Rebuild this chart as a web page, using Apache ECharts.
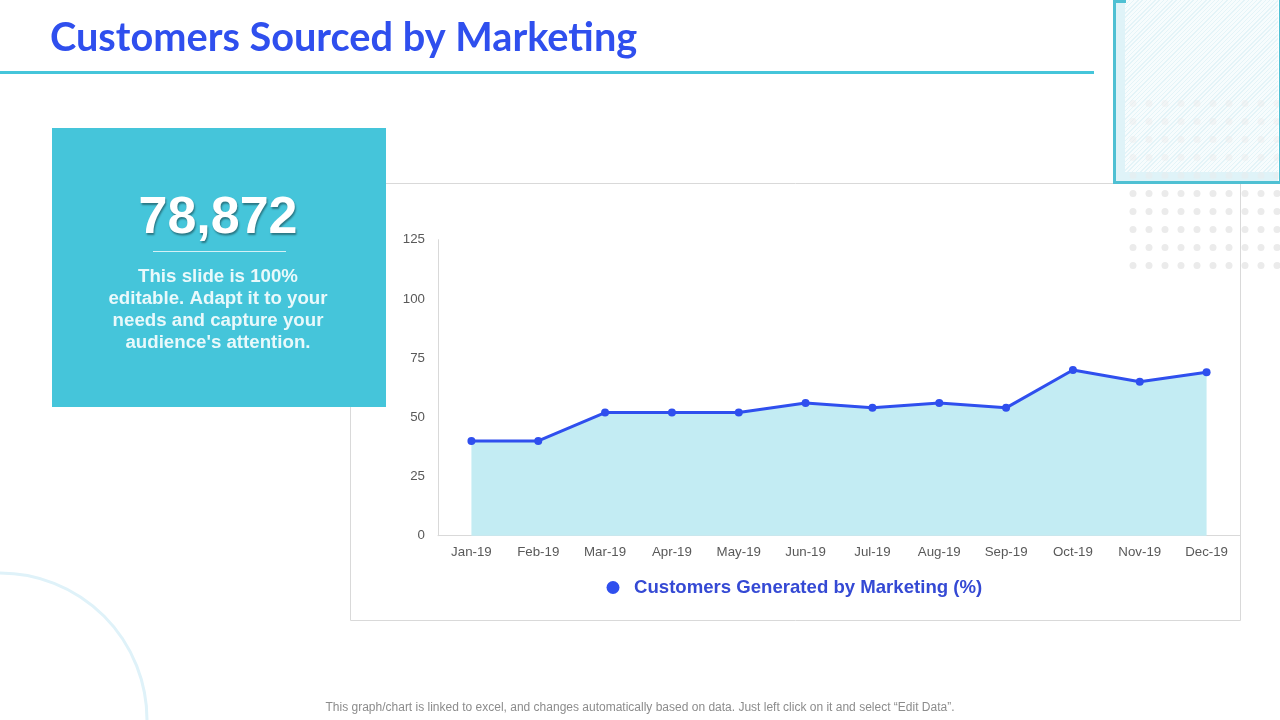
<!DOCTYPE html>
<html>
<head>
<meta charset="utf-8">
<title>Customers Sourced by Marketing</title>
<style>
	html, body { margin: 0; padding: 0; background: #fff; }
	#hatch {
		position: absolute; left: 1125px; top: 0; width: 153px; height: 172px;
		background: repeating-linear-gradient(135deg, #e4f4f8 0, #e4f4f8 1px, #f7fcfd 1px, #f7fcfd 3px);
	}
	#chart { position: absolute; left: 0; top: 0; width: 1280px; height: 720px; }
</style>
</head>
<body>
<div id="hatch"></div>
<div id="chart"></div>
<script src="https://cdn.jsdelivr.net/npm/echarts@6/dist/echarts.min.js"></script>
<script>
var categories = ['Jan-19', 'Feb-19', 'Mar-19', 'Apr-19', 'May-19', 'Jun-19', 'Jul-19', 'Aug-19', 'Sep-19', 'Oct-19', 'Nov-19', 'Dec-19'];
var customers = [40, 40, 52, 52, 52, 56, 54, 56, 54, 70, 65, 69];
var seriesName = 'Customers Generated by Marketing (%)';
var bodyLines = ['This slide is 100%', 'editable. Adapt it to your', 'needs and capture your', "audience's attention."];

var blue = '#2f4fee';
var teal = '#45c5da';
var sans = '"Liberation Sans", Arial, sans-serif';

// decoration and text around the plot
function decoration() {
	var items = [
		{ type: 'rect', z: 0, shape: { x: 350.5, y: 183.5, width: 890, height: 437 }, style: { fill: 'none', stroke: '#d9d9d9', lineWidth: 1 } },
		{ type: 'circle', z: 0, shape: { cx: 0, cy: 720, r: 147 }, style: { fill: 'none', stroke: '#dff2f9', lineWidth: 3 } },
		{ type: 'rect', z: 0, shape: { x: 0, y: 71, width: 1094, height: 3 }, style: { fill: teal } },
		{ type: 'text', z: 5, style: { x: 50, y: 38, text: 'Customers Sourced by Marketing', fill: blue, font: 'bold 39.7px Lato, sans-serif', textVerticalAlign: 'middle' } },
		// corner frame
		{ type: 'rect', z: 0, shape: { x: 1116, y: 172, width: 162, height: 9 }, style: { fill: '#dff3f8' } },
		{ type: 'rect', z: 0, shape: { x: 1116, y: 3, width: 9, height: 170 }, style: { fill: '#dff3f8' } },
		{ type: 'rect', z: 3, shape: { x: 1113, y: 0, width: 3, height: 184 }, style: { fill: '#4fc0d3' } },
		{ type: 'rect', z: 3, shape: { x: 1113, y: 181, width: 167, height: 3 }, style: { fill: '#4fc0d3' } },
		{ type: 'rect', z: 3, shape: { x: 1113, y: 0, width: 13, height: 3 }, style: { fill: '#4fc0d3' } },
		{ type: 'rect', z: 3, shape: { x: 1279, y: 0, width: 1, height: 184 }, style: { fill: '#4fc0d3' } },
		// teal card
		{ type: 'rect', z: 4, shape: { x: 52, y: 128, width: 334, height: 279 }, style: { fill: teal } },
		{ type: 'text', z: 5, style: { x: 218, y: 219, text: '78,872', fill: '#fff', font: 'bold 52px ' + sans, textAlign: 'center', textVerticalAlign: 'middle', textShadowColor: 'rgba(0,0,0,0.4)', textShadowBlur: 2, textShadowOffsetX: 1, textShadowOffsetY: 2 } },
		{ type: 'rect', z: 5, shape: { x: 153, y: 251, width: 133, height: 1 }, style: { fill: '#d4f1f6' } },
		{ type: 'text', z: 5, style: { x: 640, y: 708, text: 'This graph/chart is linked to excel, and changes automatically based on data. Just left click on it and select \u201cEdit Data\u201d.', fill: '#8c8c8c', font: '12px ' + sans, textAlign: 'center', textVerticalAlign: 'middle' } }
	];
	bodyLines.forEach(function(line, i) {
		items.push({ type: 'text', z: 5, style: { x: 218, y: 277 + i * 22, text: line, fill: '#e9f9fb', font: 'bold 18.7px ' + sans, textAlign: 'center', textVerticalAlign: 'middle' } });
	});
	// dot grid
	for (var r = 0; r < 10; r++) {
		for (var c = 0; c < 10; c++) {
			items.push({ type: 'circle', z: 1, silent: true, shape: { cx: 1133 + c * 16, cy: 103.5 + r * 18, r: 3.5 }, style: { fill: '#ebebeb', opacity: r < 5 ? 0.45 : 1 } });
		}
	}
	return items;
}

var myChart = echarts.init(document.getElementById('chart'));
var option = {
	animation: false,
	color: [blue],
	graphic: decoration(),
	legend: {
		left: 601.5,
		top: 573,
		icon: 'circle',
		itemWidth: 32,
		itemHeight: 13,
		data: [seriesName],
		textStyle: { color: '#3449d4', fontFamily: sans, fontWeight: 'bold', fontSize: 18.6 }
	},
	grid: { left: 438, top: 239.7, width: 802, height: 296, containLabel: false },
	xAxis: {
		type: 'category',
		data: categories,
		boundaryGap: true,
		axisTick: { show: false },
		axisLine: { lineStyle: { color: '#d9d9d9' } },
		axisLabel: { interval: 0, color: '#595959', fontFamily: sans, fontSize: 13.3, margin: 10 }
	},
	yAxis: {
		type: 'value',
		min: 0,
		max: 125,
		interval: 25,
		splitLine: { show: false },
		axisTick: { show: false },
		axisLine: { show: true, lineStyle: { color: '#d9d9d9' } },
		axisLabel: { color: '#595959', fontFamily: sans, fontSize: 13.3, margin: 13 }
	},
	series: [{
		name: seriesName,
		type: 'line',
		data: customers,
		symbol: 'circle',
		symbolSize: 8,
		lineStyle: { color: blue, width: 3 },
		itemStyle: { color: blue },
		areaStyle: { color: '#c3ecf3', opacity: 1 }
	}]
};
myChart.setOption(option);
</script>
</body>
</html>
